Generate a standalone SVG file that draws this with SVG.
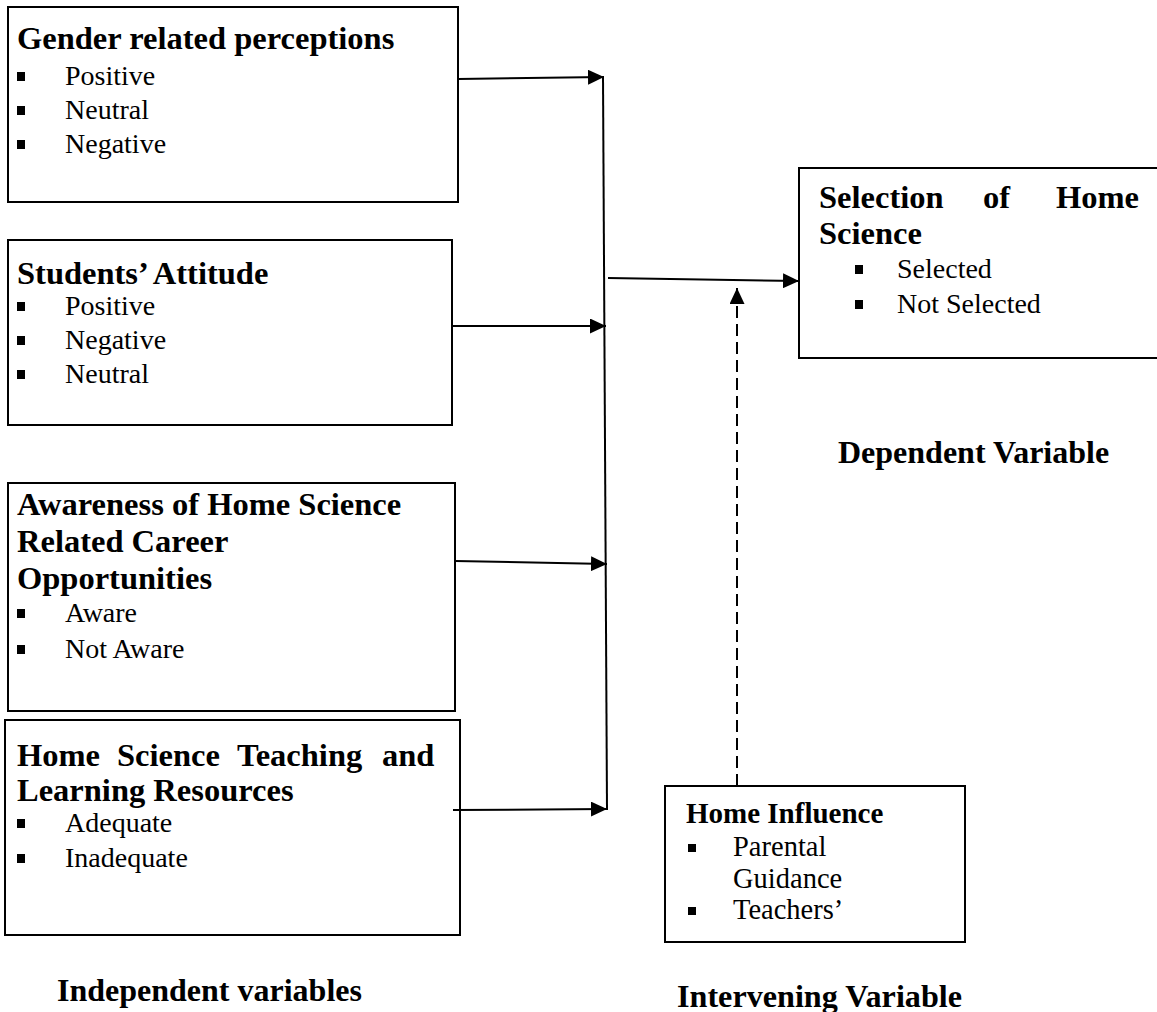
<svg xmlns="http://www.w3.org/2000/svg" width="1157" height="1012" viewBox="0 0 1157 1012">
<style>
.box{fill:#fff;stroke:#000;stroke-width:2}
.h{font-family:"Liberation Serif","Times New Roman",serif;font-weight:bold;font-size:32.5px;fill:#000}
.l{font-family:"Liberation Serif","Times New Roman",serif;font-weight:bold;font-size:32px;fill:#000}
.t{font-family:"Liberation Serif","Times New Roman",serif;font-size:28px;fill:#000}
.hs{font-family:"Liberation Serif","Times New Roman",serif;font-weight:bold;font-size:29px;fill:#000}
.ts{font-family:"Liberation Serif","Times New Roman",serif;font-size:28.5px;fill:#000}
.b{fill:#000}
.c{stroke:#000;stroke-width:2;fill:none}
.d{stroke:#000;stroke-width:2;fill:none;stroke-dasharray:12,6}
</style>
<defs>
<marker id="ah" viewBox="0 0 10 10" refX="10" refY="5" markerWidth="16" markerHeight="15" markerUnits="userSpaceOnUse" orient="auto" preserveAspectRatio="none"><path d="M0,0 L10,5 L0,10 z" fill="#000"/></marker>
</defs>
<g id="gender">
<rect class="box" x="8" y="7" width="450" height="195"/>
<text class="h" x="17" y="49">Gender related perceptions</text>
<rect class="b" x="17" y="72" width="8" height="9"/><text class="t" x="65" y="85">Positive</text>
<rect class="b" x="17" y="106" width="8" height="9"/><text class="t" x="65" y="119">Neutral</text>
<rect class="b" x="17" y="140" width="8" height="9"/><text class="t" x="65" y="153">Negative</text>
</g>
<g id="attitude">
<rect class="box" x="8" y="240" width="444" height="185"/>
<text class="h" x="17" y="284">Students’ Attitude</text>
<rect class="b" x="17" y="302" width="8" height="9"/><text class="t" x="65" y="315">Positive</text>
<rect class="b" x="17" y="336" width="8" height="9"/><text class="t" x="65" y="349">Negative</text>
<rect class="b" x="17" y="370" width="8" height="9"/><text class="t" x="65" y="383">Neutral</text>
</g>
<g id="awareness">
<rect class="box" x="8" y="483" width="447" height="228"/>
<text class="h" x="17" y="515">Awareness of Home Science</text>
<text class="h" x="17" y="552">Related Career</text>
<text class="h" x="17" y="589">Opportunities</text>
<rect class="b" x="17" y="609" width="8" height="9"/><text class="t" x="65" y="622">Aware</text>
<rect class="b" x="17" y="645" width="8" height="9"/><text class="t" x="65" y="658">Not Aware</text>
</g>
<g id="resources">
<rect class="box" x="5" y="720" width="455" height="215"/>
<text class="h" y="766"><tspan x="17">Home</tspan><tspan x="117">Science</tspan><tspan x="237">Teaching</tspan><tspan x="382">and</tspan></text>
<text class="h" x="17" y="801">Learning Resources</text>
<rect class="b" x="17" y="819" width="8" height="9"/><text class="t" x="65" y="832">Adequate</text>
<rect class="b" x="17" y="854" width="8" height="9"/><text class="t" x="65" y="867">Inadequate</text>
</g>
<g id="selection">
<rect class="box" x="799" y="168" width="370" height="190"/>
<text class="h" y="208"><tspan x="819">Selection</tspan><tspan x="983">of</tspan><tspan x="1056">Home</tspan></text>
<text class="h" x="819" y="244">Science</text>
<rect class="b" x="855" y="265" width="8" height="9"/><text class="t" x="897" y="278">Selected</text>
<rect class="b" x="855" y="300" width="8" height="9"/><text class="t" x="897" y="313">Not Selected</text>
</g>
<g id="home">
<rect class="box" x="665" y="786" width="300" height="156"/>
<text class="hs" x="686" y="823">Home Influence</text>
<rect class="b" x="688" y="844" width="8" height="8"/><text class="ts" x="733" y="856">Parental</text>
<text class="ts" x="733" y="888">Guidance</text>
<rect class="b" x="688" y="907" width="8" height="8"/><text class="ts" x="733" y="919">Teachers’</text>
</g>
<g id="labels">
<text class="l" x="838" y="463">Dependent Variable</text>
<text class="l" x="57" y="1001">Independent variables</text>
<text class="l" x="677" y="1007" textLength="285" lengthAdjust="spacingAndGlyphs">Intervening Variable</text>
</g>
<g id="connectors">
<line class="c" x1="603" y1="77" x2="607" y2="810"/>
<line class="c" x1="458" y1="79" x2="604" y2="77" marker-end="url(#ah)"/>
<line class="c" x1="452" y1="326" x2="606" y2="326" marker-end="url(#ah)"/>
<line class="c" x1="455" y1="561" x2="607" y2="564" marker-end="url(#ah)"/>
<line class="c" x1="453" y1="810" x2="607" y2="809" marker-end="url(#ah)"/>
<line class="c" x1="608" y1="278" x2="799" y2="281" marker-end="url(#ah)"/>
<line class="d" x1="737" y1="786" x2="737" y2="288" marker-end="url(#ah)"/>
</g>
</svg>
